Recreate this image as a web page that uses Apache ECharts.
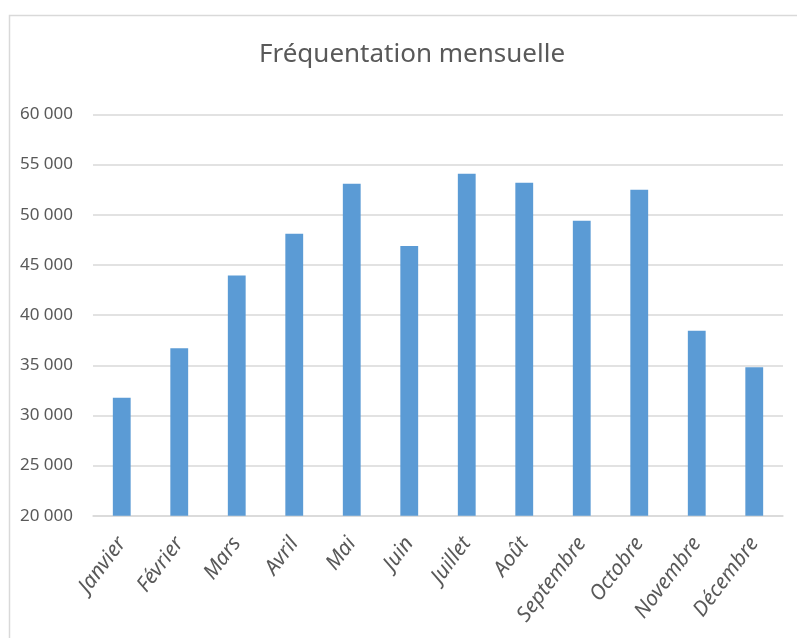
<!DOCTYPE html>
<html>
<head>
<meta charset="utf-8">
<script src="https://cdn.jsdelivr.net/npm/echarts@6/dist/echarts.min.js"></script>
<style>
    html, body { margin: 0; padding: 0; background: #fff; }
    #main { width: 797px; height: 638px; }
</style>
</head>
<body>
<div id="main"></div>
<script>
// données
const months = ['Janvier', 'Février', 'Mars', 'Avril', 'Mai', 'Juin', 'Juillet', 'Août', 'Septembre', 'Octobre', 'Novembre', 'Décembre'];
const visitors = [31750, 36700, 43950, 48100, 53100, 46900, 54100, 53200, 49400, 52500, 38450, 34800];
const yTicks = [20000, 25000, 30000, 35000, 40000, 45000, 50000, 55000, 60000];

const myChart = echarts.init(document.getElementById('main'));

function formatNum(v) {// 60000 -> "60 000"
    return String(v).replace(/\B(?=(\d{3})+(?!\d))/g, ' ');
}

let option = {
    backgroundColor: '#fff',
    textStyle: {
        fontFamily: 'Noto Sans'
    },
    title: {
        text: 'Fréquentation mensuelle',
        left: 407,
        textAlign: 'center',
        top: 37,
        textStyle: {
            color: '#595959',
            fontSize: 26,
            fontWeight: 'normal',
            fontFamily: 'Noto Sans'
        }
    },
    graphic: [
        {// cadre du graphique
            type: 'rect',
            left: 7,
            top: 13,
            shape: { width: 820, height: 700 },
            style: { fill: 'none', stroke: '#d9d9d9', lineWidth: 1.5 },
            silent: true
        }
    ],
    grid: {
        left: 93,
        right: 14,
        top: 114.5,
        bottom: 122.3
    },
    xAxis: {
        type: 'category',
        data: months,
        axisTick: { show: false },
        axisLine: {
            lineStyle: { color: '#d9d9d9', width: 1.5 }
        },
        axisLabel: {
            interval: 0,
            rotate: 53,
            margin: 24,
            color: '#595959',
            fontSize: 21,
            fontStyle: 'italic',
            fontFamily: 'Noto Sans'
        }
    },
    yAxis: {
        type: 'value',
        min: yTicks[0],
        max: yTicks[yTicks.length - 1],
        interval: yTicks[1] - yTicks[0],
        axisLine: { show: false },
        axisTick: { show: false },
        axisLabel: {
            color: '#595959',
            fontSize: 17,
            margin: 20,
            fontFamily: 'Noto Sans',
            formatter: formatNum
        },
        splitLine: {
            lineStyle: { color: '#d9d9d9', width: 1.5 }
        }
    },
    series: [
        {
            name: 'Fréquentation',
            type: 'bar',
            barWidth: '31%',
            itemStyle: {
                color: '#5B9BD5'
            },
            data: visitors
        }
    ]
};
myChart.setOption(option);
</script>
</body>
</html>
